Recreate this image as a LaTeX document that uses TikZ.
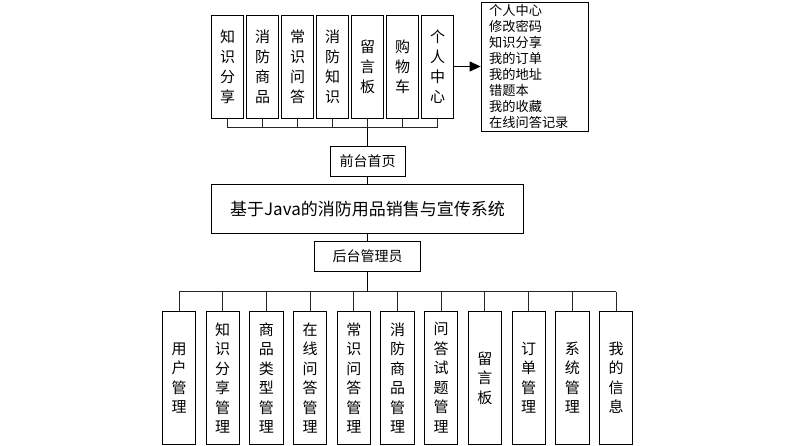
\documentclass[tikz,border=0pt]{standalone}
\usepackage{fontspec}
\setmainfont{Noto Sans CJK SC}
\usetikzlibrary{arrows.meta}
\tikzset{
  box/.style={draw=black, line width=0.8pt, inner sep=0pt, align=center, fill=white},
  topbox/.style={box, minimum width=32, minimum height=103, font=\fontsize{15}{20}\selectfont},
  botbox/.style={box, minimum width=33.3, minimum height=132.3, font=\fontsize{15}{19.5}\selectfont},
  smallbox/.style={box, font=\fontsize{14}{16}\selectfont},
  conn/.style={draw=black!85, line width=0.9pt},
  stem/.style={draw=black, line width=1.2pt},
  listtext/.style={anchor=west, inner sep=0pt, font=\fontsize{13.2}{15}\selectfont, text height=0.88em, text depth=0.12em},
}
\begin{document}
\begin{tikzpicture}[x=1pt,y=-1pt]
\useasboundingbox (0,0) rectangle (805,446);

% top boxes
\node[topbox] (t1) at (227.5,66.5) {知\\识\\分\\享};
\node[topbox] (t2) at (262.5,66.5) {消\\防\\商\\品};
\node[topbox] (t3) at (297.5,66.5) {常\\识\\问\\答};
\node[topbox] (t4) at (332.5,66.5) {消\\防\\知\\识};
\node[topbox] (t5) at (367.5,66.5) {留\\言\\板};
\node[topbox] (t6) at (402.5,66.5) {购\\物\\车};
\node[topbox] (t7) at (437.5,66.5) {个\\人\\中\\心};

\foreach \i in {1,...,7} {
  \path (t\i.south) ++(0,9.3) coordinate (tb\i);
  \draw[conn] (t\i.south) -- (tb\i);
}
\draw[conn] (tb1) -- (tb7);

% list box
\node[box, minimum width=107, minimum height=129] (list) at (534.5,66.5) {};
\node[listtext] (l1) at (489,11.7) {个人中心};
\node[listtext] (l2) at (489,27.65) {修改密码};
\node[listtext] (l3) at (489,43.6) {知识分享};
\node[listtext] (l4) at (489,59.55) {我的订单};
\node[listtext] (l5) at (489,75.5) {我的地址};
\node[listtext] (l6) at (489,91.45) {错题本};
\node[listtext] (l7) at (489,107.4) {我的收藏};
\node[listtext] (l8) at (489,123.35) {在线问答记录};

\draw[line width=1.2pt, -{Triangle[length=11pt,width=10pt]}] (t7.east) -- (list.west);

% front page
\node[smallbox, minimum width=75, minimum height=30.7] (front) at (367.5,161.3) {前台首页};
\draw[stem] (tb5) -- (front.north);

% main title
\node[box, minimum width=311.6, minimum height=49, font=\fontsize{17}{20}\selectfont] (main) at (367.5,208.8) {基于Java的消防用品销售与宣传系统};
\draw[stem] (front.south) -- (main.north);

% admin
\node[smallbox, minimum width=106, minimum height=30] (admin) at (367.5,256) {后台管理员};
\draw[stem] (main.south) -- (admin.south |- main.south) -- (admin.north);

% bottom boxes
\node[botbox] (b1) at (179.0,377.85) {用\\户\\管\\理};
\node[botbox] (b2) at (222.7,377.85) {知\\识\\分\\享\\管\\理};
\node[botbox] (b3) at (266.4,377.85) {商\\品\\类\\型\\管\\理};
\node[botbox] (b4) at (310.1,377.85) {在\\线\\问\\答\\管\\理};
\node[botbox] (b5) at (353.8,377.85) {常\\识\\问\\答\\管\\理};
\node[botbox] (b6) at (397.5,377.85) {消\\防\\商\\品\\管\\理};
\node[botbox] (b7) at (441.2,377.85) {问\\答\\试\\题\\管\\理};
\node[botbox] (b8) at (484.9,377.85) {留\\言\\板};
\node[botbox] (b9) at (528.6,377.85) {订\\单\\管\\理};
\node[botbox] (b10) at (572.3,377.85) {系\\统\\管\\理};
\node[botbox] (b11) at (616.0,377.85) {我\\的\\信\\息};

\foreach \i in {1,...,11} {
  \path (b\i.north) ++(0,-19.4) coordinate (bb\i);
  \draw[conn] (bb\i) -- (b\i.north);
}
\draw[conn] (bb1) -- (bb11);
\coordinate (hub) at (admin.south |- bb1);
\draw[stem] (admin.south) -- (hub);
\end{tikzpicture}
\end{document}
